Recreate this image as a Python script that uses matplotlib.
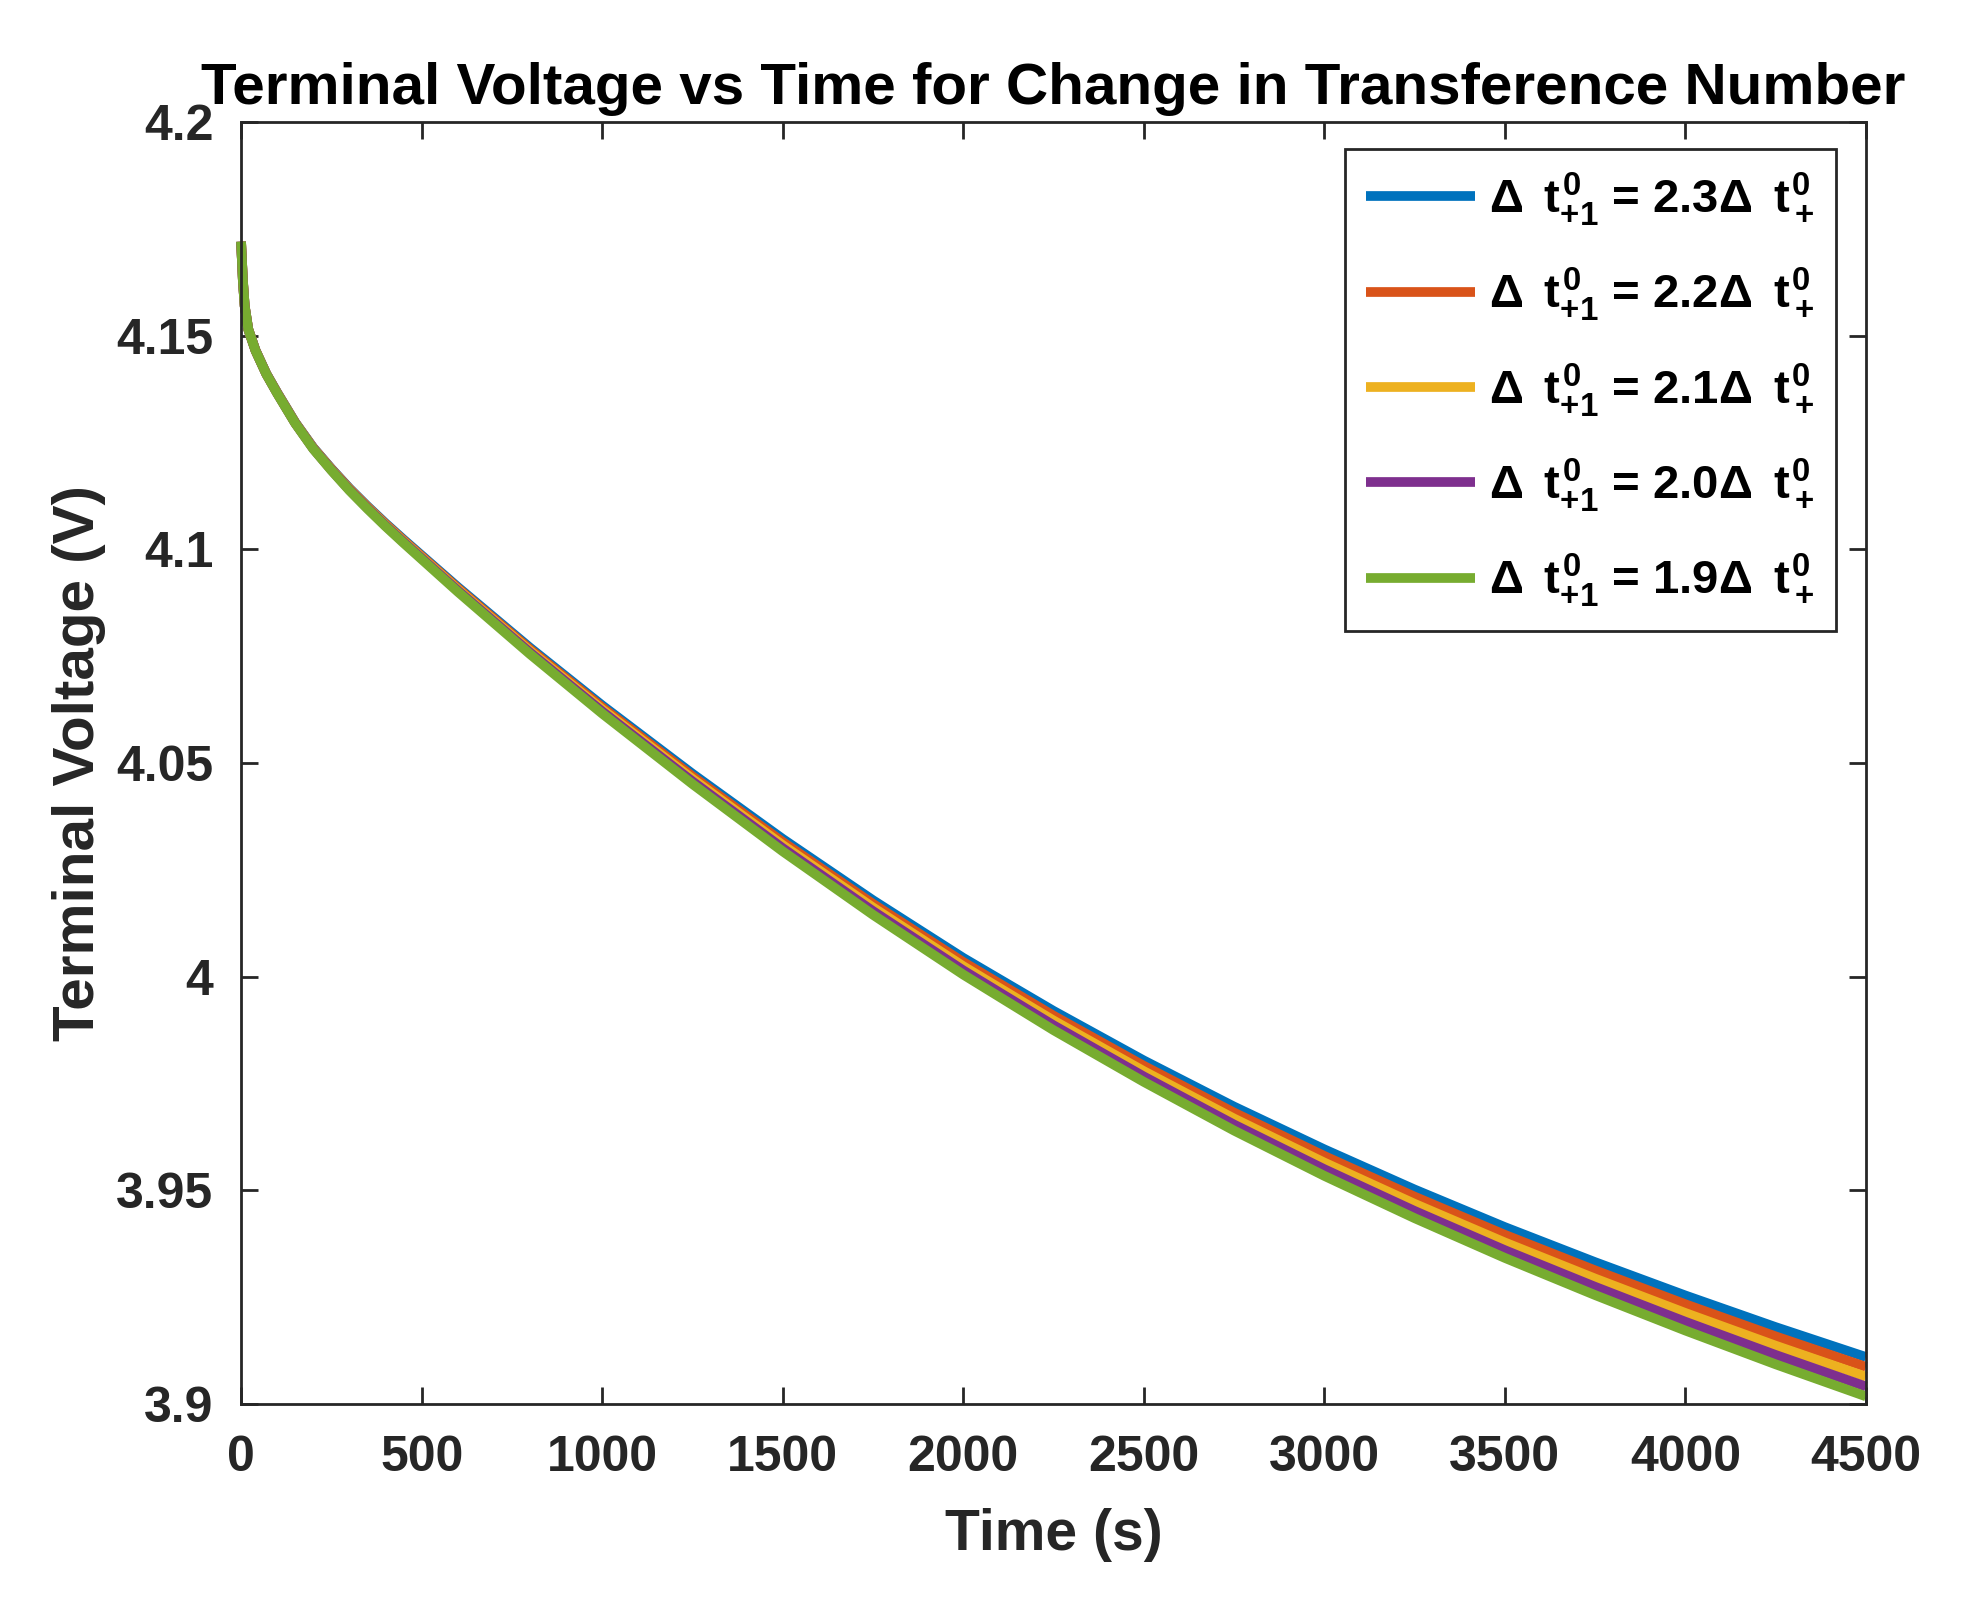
import matplotlib
matplotlib.use('Agg')
import matplotlib.pyplot as plt

plt.rcParams['font.family'] = 'Liberation Sans'
plt.rcParams['font.weight'] = 'bold'
plt.rcParams['mathtext.fontset'] = 'custom'
plt.rcParams['mathtext.rm'] = 'Liberation Sans:bold'
plt.rcParams['mathtext.it'] = 'Liberation Sans:bold'
plt.rcParams['mathtext.bf'] = 'Liberation Sans:bold'

# time (s)
t = [0, 5, 10, 20, 40, 70, 100, 150, 200, 250, 300, 350, 400, 450, 600, 800,
     1000, 1250, 1500, 1750, 2000, 2250, 2500, 2750, 3000, 3250, 3500, 3750,
     4000, 4250, 4500]

# terminal voltage (V), one list per transference number change
v_23 = [4.172, 4.163, 4.157, 4.1515, 4.1466, 4.1411, 4.1367, 4.1297, 4.1238,
        4.1189, 4.1143, 4.1101, 4.1061, 4.1023, 4.0912, 4.0770, 4.0635, 4.0475,
        4.03225, 4.0179, 4.0044, 3.9920, 3.9804, 3.9696, 3.9596, 3.9502, 3.9414,
        3.9332, 3.9254, 3.9180, 3.9110]
v_22 = [4.172, 4.163, 4.157, 4.1515, 4.14658, 4.14108, 4.13665, 4.12965, 4.12373,
        4.1188, 4.11418, 4.10995, 4.10593, 4.1021, 4.09093, 4.07663, 4.06303, 4.0469,
        4.03153, 4.01705, 4.00343, 3.99088, 3.97915, 3.9682, 3.95805, 3.94853, 3.9396,
        3.93128, 3.92335, 3.91583, 3.9087]
v_21 = [4.172, 4.163, 4.157, 4.1515, 4.14655, 4.14105, 4.1366, 4.1296, 4.12365,
        4.1187, 4.11405, 4.1098, 4.10575, 4.1019, 4.09065, 4.07625, 4.06255, 4.0463,
        4.0308, 4.0162, 4.00245, 3.98975, 3.9779, 3.9668, 3.9565, 3.94685, 3.9378,
        3.92935, 3.9213, 3.91365, 3.9064]
v_20 = [4.172, 4.163, 4.157, 4.1515, 4.14653, 4.14103, 4.13655, 4.12955, 4.12358,
        4.1186, 4.11393, 4.10965, 4.10558, 4.1017, 4.09038, 4.07588, 4.06208, 4.0457,
        4.03008, 4.01535, 4.00148, 3.98863, 3.97665, 3.9654, 3.95495, 3.94518, 3.9360,
        3.92743, 3.91925, 3.91148, 3.9041]
v_19 = [4.172, 4.163, 4.157, 4.1515, 4.1465, 4.1410, 4.1365, 4.1295, 4.1235,
        4.1185, 4.1138, 4.1095, 4.1054, 4.1015, 4.0901, 4.0755, 4.0616, 4.0451,
        4.02935, 4.0145, 4.0005, 3.9875, 3.9754, 3.9640, 3.9534, 3.9435, 3.9342,
        3.9255, 3.9172, 3.9093, 3.9018]

factors = ['2.3', '2.2', '2.1', '2.0', '1.9']
colors = ['#0072BD', '#D95319', '#EDB120', '#7E2F8E', '#77AC30']

xticks = [0, 500, 1000, 1500, 2000, 2500, 3000, 3500, 4000, 4500]
yticks = [3.9, 3.95, 4.0, 4.05, 4.1, 4.15, 4.2]
ytick_labels = ['3.9', '3.95', '4', '4.05', '4.1', '4.15', '4.2']

fig = plt.figure(figsize=(19.84, 16.12), dpi=100)
ax = fig.add_axes([0.1215, 0.129, 0.819, 0.7953])

for v, f, c in zip([v_23, v_22, v_21, v_20, v_19], factors, colors):
    label = r'$\Delta\ \,t^0_{+1}$ = ' + f + r'$\Delta\ \,t^0_+$'
    ax.plot(t, v, color=c, lw=7, label=label, clip_on=False,
            solid_capstyle='butt', solid_joinstyle='round')

ax.set_xlim(0, 4500)
ax.set_ylim(3.9, 4.2)
ax.set_xticks(xticks)
ax.set_xticklabels([str(x) for x in xticks])
ax.set_yticks(yticks)
ax.set_yticklabels(ytick_labels)

dark = '#262626'
for s in ax.spines.values():
    s.set_linewidth(2.0)
    s.set_color(dark)
ax.tick_params(direction='in', length=12, width=2.0, colors=dark,
               labelsize=36, top=True, right=True)
ax.tick_params(axis='x', pad=22)
ax.tick_params(axis='y', pad=20)

ax.set_title('Terminal Voltage vs Time for Change in Transference Number',
             fontsize=42, fontweight='bold', pad=13)
ax.set_xlabel('Time (s)', fontsize=41, fontweight='bold', color=dark, labelpad=20)
ax.set_ylabel('Terminal Voltage (V)', fontsize=42, fontweight='bold', color=dark,
              labelpad=7)

leg = ax.legend(loc='upper right', bbox_to_anchor=(0.9815, 0.979), fontsize=34,
                handlelength=2.3, handletextpad=0.3, labelspacing=0.8,
                borderpad=0.45, borderaxespad=0, fancybox=False, framealpha=1)
leg.get_frame().set_edgecolor(dark)
leg.get_frame().set_linewidth(2.0)

fig.savefig('out.png', dpi=100, facecolor='white')
